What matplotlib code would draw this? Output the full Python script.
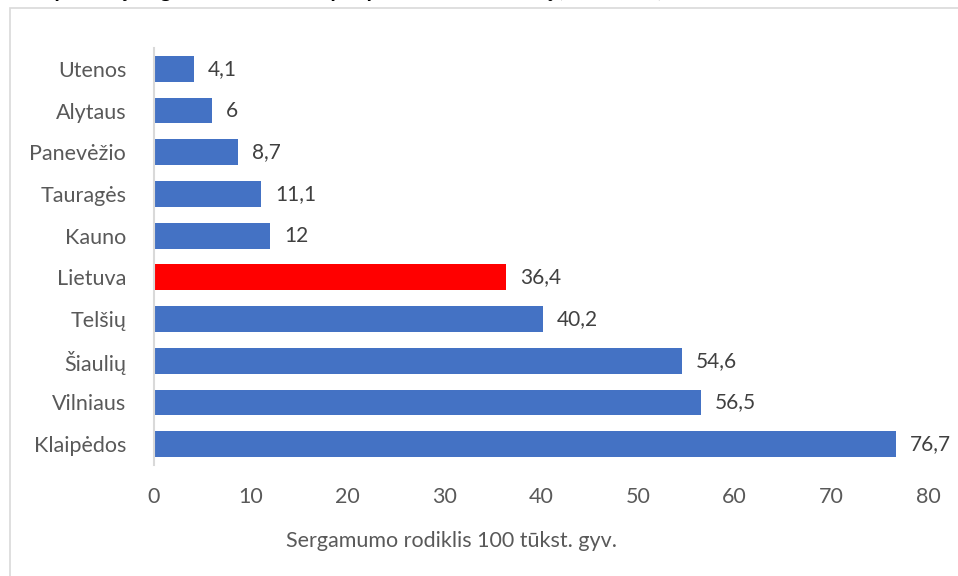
import matplotlib
matplotlib.use("Agg")
import matplotlib.pyplot as plt
from matplotlib.patches import Rectangle

categories = ["Klaipėdos", "Vilniaus", "Šiaulių", "Telšių", "Lietuva",
              "Kauno", "Tauragės", "Panevėžio", "Alytaus", "Utenos"]
values = [76.7, 56.5, 54.6, 40.2, 36.4, 12, 11.1, 8.7, 6, 4.1]
value_labels = ["76,7", "56,5", "54,6", "40,2", "36,4", "12", "11,1", "8,7", "6", "4,1"]
xticks = [0, 10, 20, 30, 40, 50, 60, 70, 80]
title = "Apskričių sergamumo rodikliai, per paskutines 14 dienų (100 tūkst.)"
xlabel = "Sergamumo rodiklis 100 tūkst. gyv."

plt.rcParams['font.family'] = ['Lato', 'DejaVu Sans']
TXT = '#595959'
W, H = 958, 576
fig = plt.figure(figsize=(W / 100, H / 100), dpi=100)

# outer chart frame
fig.patches.append(Rectangle((10 / W, -0.1), 1.2, 1 - 7.5 / H + 0.1, transform=fig.transFigure,
                             fill=False, edgecolor='#d9d9d9', linewidth=1.2))

# title (cut off at the top edge, as in the reference)
fig.text(40 / W, 1 + 3 / H, title, ha='left', va='baseline', fontsize=15,
         fontweight='bold', color='black')

ax = fig.add_axes([154 / W, 1 - 465 / H, (928 - 154) / W, (465 - 48) / H])
colors = ['#FF0000' if c == 'Lietuva' else '#4472C4' for c in categories]
bars = ax.barh(range(len(categories)), values, height=0.62, color=colors)
for b, lab in zip(bars, value_labels):
    ax.annotate(lab, (b.get_width(), b.get_y() + b.get_height() / 2),
                xytext=(10, 0), textcoords='offset points', va='center', ha='left',
                fontsize=15, color='#404040')
ax.set_ylim(-0.5, len(categories) - 0.5)
ax.set_xlim(0, 80)
ax.set_xticks(xticks)
ax.set_xticklabels([str(t) for t in xticks])
ax.set_yticks(range(len(categories)))
ax.set_yticklabels(categories)
for s in ['top', 'right', 'bottom']:
    ax.spines[s].set_visible(False)
ax.spines['left'].set_color('#d9d9d9')
ax.spines['left'].set_linewidth(1.5)
ax.tick_params(axis='both', length=0, labelsize=15.5, colors=TXT)
ax.tick_params(axis='y', pad=20)
ax.tick_params(axis='x', pad=16)
fig.text(452 / W, 1 - 541 / H, xlabel, ha='center', va='center', fontsize=15.5, color=TXT)

fig.savefig('out.png', dpi=100)
